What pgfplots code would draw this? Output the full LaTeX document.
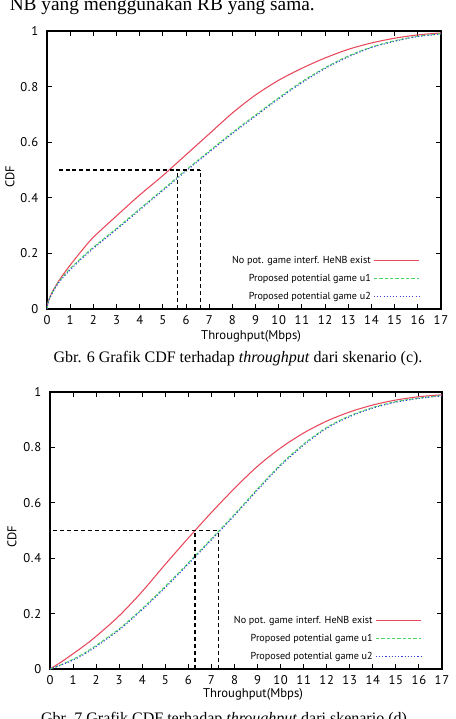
\documentclass[border=0pt]{standalone}
\usepackage{fontspec}
\setmainfont{Liberation Serif}
\newfontfamily\chartfont{PT Sans}
\newfontfamily\tickfont[LetterSpace=6]{PT Sans}
\usepackage{pgfplots}
\pgfplotsset{compat=1.18}
\definecolor{cred}{RGB}{232,72,92}
\definecolor{cgreen}{RGB}{70,215,100}
\definecolor{cblue}{RGB}{60,60,215}
\pgfplotsset{
  cdfaxis/.style={
    scale only axis,
    xmin=0, xmax=17, ymin=0, ymax=1,
    xtick={0,1,...,17},
    ytick={0,0.2,0.4,0.6,0.8,1},
    yticklabels={0,0.2,0.4,0.6,0.8,1},
    tick align=inside,
    major tick length=3.75pt,
    axis line style={line width=1.4pt},
    every tick/.style={black, line width=0.8pt},
    tick label style={font=\tickfont\fontsize{9.5}{11}\selectfont},
    xticklabel style={yshift=-1.5pt},
    yticklabel style={xshift=-3pt},
    /pgf/number format/assume math mode=true,
    label style={font=\chartfont\fontsize{9.5}{11}\selectfont},
    xlabel={Throughput(Mbps)},
    ylabel={CDF},
    legend plot pos=right,
    legend cell align=right,
    legend image code/.code={\draw[##1] (0pt,0pt) -- (34pt,0pt);},
    legend style={draw=none, fill=none, anchor=south east, inner sep=0pt,
      font=\chartfont\fontsize{7.6}{9}\selectfont, row sep=2.6pt,
      cells={anchor=east}},
  },
  redc/.style={cred, line width=0.8pt, smooth},
  greenc/.style={cgreen, line width=0.8pt, dash pattern=on 2.5pt off 1.5pt, smooth},
  bluec/.style={cblue, line width=0.8pt, dash pattern=on 0.8pt off 1.6pt, smooth},
  medl/.style={black, line width=1.1pt, dash pattern=on 3pt off 2.2pt, forget plot},
}
\begin{document}
\begin{tikzpicture}[x=0.75pt,y=0.75pt]
\useasboundingbox (0,0) rectangle (455,719);
\clip (0,0) rectangle (455,719);
\node[anchor=base east, font=\fontsize{14.5}{16}\selectfont, inner sep=0pt] at (315,708.5) {NB yang menggunakan RB yang sama.};
\begin{axis}[cdfaxis,
  at={(35.25pt,307.5pt)}, anchor=south west,
  width=295.5pt, height=208.5pt,
  xlabel style={at={(axis description cs:0.518,-0.097)}, anchor=center},
  ylabel style={at={(axis description cs:-0.094,0.475)}, anchor=center},
  legend style={at={(0.947,0.018)}},
]
\addplot[redc] coordinates {(0,0) (0.05,0.025) (0.2,0.057) (0.5,0.1) (0.75,0.13) (1,0.158) (1.5,0.21) (2,0.258) (3,0.335) (4,0.41) (5,0.48) (6,0.555) (7,0.63) (8,0.705) (9,0.77) (10,0.823) (11,0.866) (12,0.903) (13,0.934) (14,0.957) (15,0.974) (16,0.986) (17,0.993)};
\addlegendentry{No pot. game interf. HeNB exist}
\addplot[greenc] coordinates {(0,0) (0.05,0.025) (0.2,0.055) (0.5,0.097) (0.75,0.122) (1,0.145) (1.5,0.185) (2,0.222) (3,0.29) (4,0.36) (5,0.43) (6,0.5) (7,0.568) (8,0.635) (9,0.698) (10,0.76) (11,0.818) (12,0.868) (13,0.91) (14,0.942) (15,0.965) (16,0.981) (17,0.99)};
\addlegendentry{Proposed potential game u1}
\addplot[bluec] coordinates {(0,0) (0.05,0.024) (0.2,0.053) (0.5,0.094) (0.75,0.119) (1,0.141) (1.5,0.181) (2,0.218) (3,0.286) (4,0.356) (5,0.426) (6,0.496) (7,0.564) (8,0.631) (9,0.694) (10,0.756) (11,0.814) (12,0.865) (13,0.907) (14,0.94) (15,0.963) (16,0.98) (17,0.989)};
\addlegendentry{Proposed potential game u2}
\addplot[medl] coordinates {(0.5,0.5) (6.62,0.5)};
\addplot[medl] coordinates {(5.64,0) (5.64,0.5)};
\addplot[medl] coordinates {(6.62,0) (6.62,0.5)};
\end{axis}
\node[anchor=base, font=\fontsize{12}{14}\selectfont, inner sep=0pt] at (238,356) {Gbr. 6 Grafik CDF terhadap \textit{throughput} dari skenario (c).};
\begin{axis}[cdfaxis,
  at={(37.5pt,37.5pt)}, anchor=south west,
  width=294pt, height=207.75pt,
  xlabel style={at={(axis description cs:0.518,-0.09)}, anchor=center},
  ylabel style={at={(axis description cs:-0.097,0.477)}, anchor=center},
  legend style={at={(0.949,0.018)}},
]
\addplot[redc] coordinates {(0,0) (0.5,0.026) (1,0.055) (1.5,0.085) (2,0.118) (3,0.192) (4,0.28) (5,0.378) (6,0.473) (7,0.565) (8,0.652) (9,0.732) (10,0.798) (11,0.852) (12,0.895) (13,0.928) (14,0.953) (15,0.971) (16,0.983) (17,0.99)};
\addlegendentry{No pot. game interf. HeNB exist}
\addplot[greenc] coordinates {(0,0) (0.5,0.016) (1,0.035) (1.5,0.058) (2,0.085) (3,0.145) (4,0.218) (5,0.298) (6,0.383) (7,0.47) (8,0.558) (9,0.65) (10,0.738) (11,0.812) (12,0.872) (13,0.914) (14,0.944) (15,0.965) (16,0.978) (17,0.987)};
\addlegendentry{Proposed potential game u1}
\addplot[bluec] coordinates {(0,0) (0.5,0.015) (1,0.032) (1.5,0.054) (2,0.081) (3,0.141) (4,0.214) (5,0.294) (6,0.379) (7,0.466) (8,0.554) (9,0.646) (10,0.734) (11,0.808) (12,0.869) (13,0.911) (14,0.942) (15,0.963) (16,0.977) (17,0.986)};
\addlegendentry{Proposed potential game u2}
\addplot[medl] coordinates {(0.14,0.5) (7.3,0.5)};
\addplot[medl] coordinates {(6.29,0) (6.29,0.5)};
\addplot[medl] coordinates {(7.3,0) (7.3,0.5)};
\end{axis}
\node[anchor=base, font=\fontsize{12}{14}\selectfont, inner sep=0pt] at (226,-4) {Gbr. 7 Grafik CDF terhadap \textit{throughput} dari skenario (d).};
\end{tikzpicture}
\end{document}
